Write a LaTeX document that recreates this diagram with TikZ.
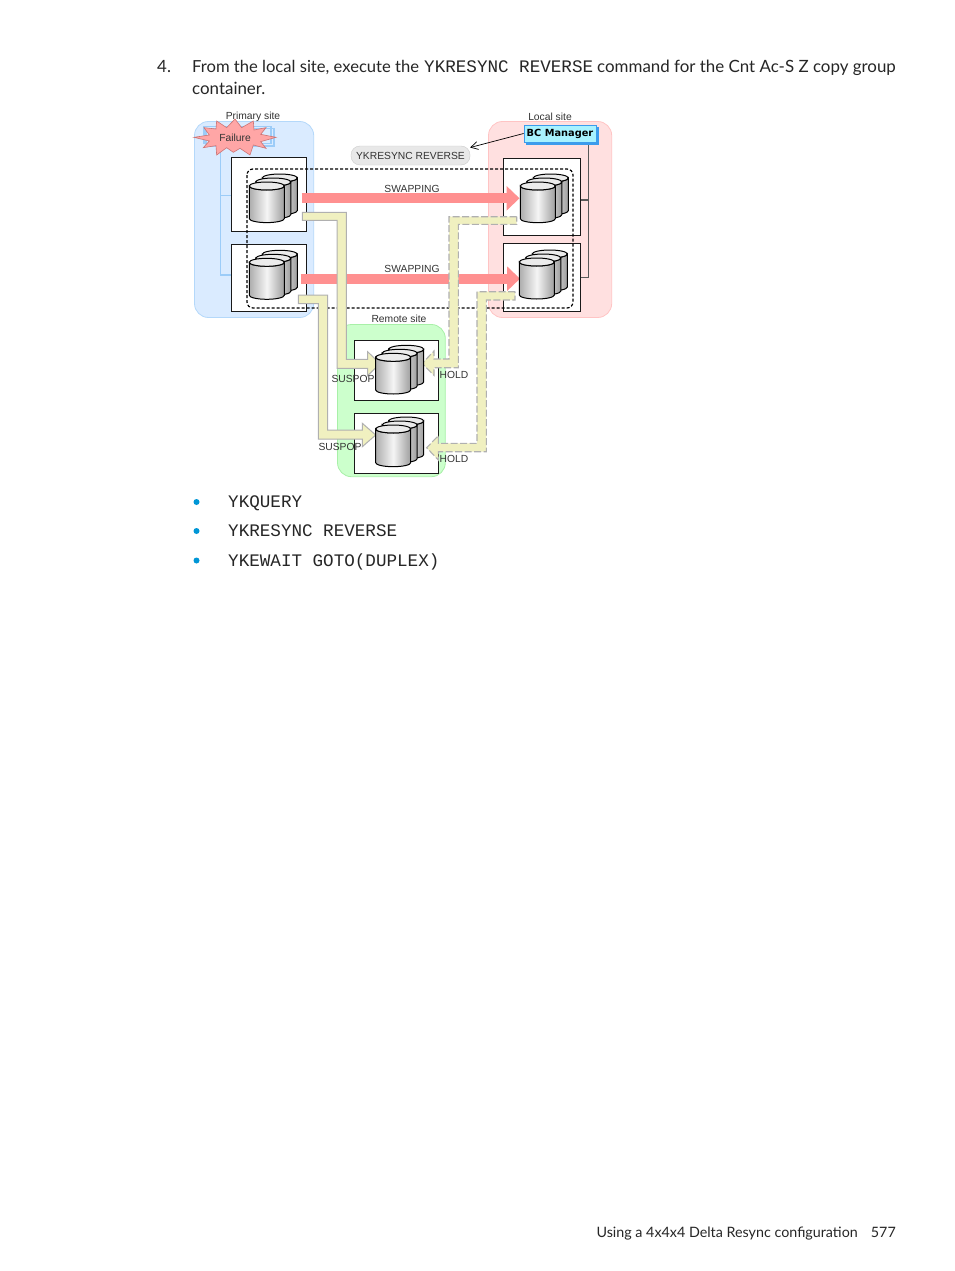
\documentclass[tikz,border=0pt]{standalone}
\usepackage{fontspec}
\setmainfont{Lato}
\setsansfont{Liberation Sans}
\setmonofont{Liberation Mono}
\newfontfamily\bcfont{DejaVu Sans}
\usetikzlibrary{arrows.meta}
\definecolor{siteblue}{HTML}{DAEBFF}
\definecolor{siteblueline}{HTML}{B4D8FA}
\definecolor{sitepink}{HTML}{FFE0E0}
\definecolor{sitepinkline}{HTML}{FFC4C4}
\definecolor{sitegreen}{HTML}{CCFFCC}
\definecolor{sitegreenline}{HTML}{A8F0A8}
\definecolor{salmon}{HTML}{FF9090}
\definecolor{pale}{HTML}{F0F0C0}
\definecolor{paleline}{HTML}{B0B0B0}
\definecolor{hpblue}{HTML}{0096D6}
\definecolor{wire}{HTML}{9CCCF8}
\definecolor{capsule}{HTML}{E8E8E8}
\definecolor{bccyan}{HTML}{A8F2FF}
\definecolor{bcshadow}{HTML}{3C9CEC}
\tikzset{
  site/.style={rounded corners=14pt,line width=0.8pt},
  sitebox/.style={draw=black!90,fill=white,line width=1pt},
  body/.style={inner sep=0pt,anchor=base west,font=\fontsize{16.9}{20}\selectfont,text=black!85},
  code/.style={inner sep=0pt,anchor=base west,font=\ttfamily\fontsize{17.6}{20}\selectfont,text=black!85},
  lab/.style={inner sep=0pt,font=\sffamily\fontsize{10.3}{12}\selectfont,text=black!80},
  swaparrow/.style={draw=salmon,line width=10pt,-{Triangle[length=13pt,width=24pt,fill=salmon]}},
  bigarrow/.style={fill=pale,draw=paleline,line width=1pt,line join=miter},
  holdarrow/.style={bigarrow,line width=1.1pt,dash pattern=on 7pt off 2.5pt},
  dot/.style={circle,fill=hpblue,inner sep=0pt,minimum size=6pt},
}
\newcommand{\onecyl}[3]{% x, ytop, ybottom
  \path[left color=black!32,right color=black!38,middle color=black!4,draw=black,line width=1pt]
    (#1,#2+4) arc[start angle=180,end angle=360,x radius=17.5pt,y radius=4pt]
    -- (#1+35,#3-4) arc[start angle=360,end angle=180,x radius=17.5pt,y radius=4pt] -- cycle;
  \path[fill=black!8,draw=black,line width=1pt] (#1+17.5,#2+4) ellipse[x radius=17.5pt,y radius=4pt];
}
\newcommand{\cylstack}[3]{%
  \onecyl{#1+13}{#2-8}{#3-8}
  \onecyl{#1+6.5}{#2-4}{#3-4}
  \onecyl{#1}{#2}{#3}
}
\begin{document}
\begin{tikzpicture}[x=1pt,y=-1pt]
\useasboundingbox[fill=white] (0,0) rectangle (954,1271);

% page text
\node[body] (stepno) at (157,72.5) {4.};
\node[body,font=\fontsize{16.6}{20}\selectfont] (l1a) at (192,72.5) {From the local site, execute the};
\node[code] (l1b) at (424,72.5) {YKRESYNC REVERSE};
\node[body] (l1c) at (597,72.5) {command for the Cnt Ac-S Z copy group};
\node[body] (l2) at (192,94.5) {container.};

% sites
\draw[site,fill=siteblue,draw=siteblueline] (194.5,121.5) rectangle (313.7,317.5);
\draw[site,fill=sitepink,draw=sitepinkline] (488.5,121.5) rectangle (611.7,317.5);
\draw[site,fill=sitegreen,draw=sitegreenline] (337.5,324.5) rectangle (445.3,476.7);

% hidden server and wires, primary site
\draw[wire,line width=1.5pt] (220.7,146) -- (220.7,275) -- (232,275) (220.7,195.7) -- (232,195.7);
\draw[wire,line width=1.5pt] (206,128.5) rectangle (274,146);
\draw[wire,line width=1.5pt] (204,126.5) rectangle (271,143.5);

% wires, local site
\draw[black!65,line width=1.4pt] (588.5,143) -- (588.5,277.7) -- (580,277.7) (588.5,200) -- (580,200);

% storage boxes
\node[sitebox,minimum width=74.3pt,minimum height=74pt,inner sep=0pt] (pbox1) at (268.85,194) {};
\node[sitebox,minimum width=74.3pt,minimum height=67pt,inner sep=0pt] (pbox2) at (268.85,277.5) {};
\node[sitebox,minimum width=77pt,minimum height=77pt,inner sep=0pt] (lbox1) at (541.5,196.5) {};
\node[sitebox,minimum width=77pt,minimum height=68pt,inner sep=0pt] (lbox2) at (541.5,277) {};
\node[sitebox,minimum width=84pt,minimum height=60pt,inner sep=0pt] (rbox1) at (396.3,370.3) {};
\node[sitebox,minimum width=84pt,minimum height=60pt,inner sep=0pt] (rbox2) at (396.3,443.3) {};

% copy group outline
\draw[black,line width=1.2pt,dash pattern=on 3pt off 2pt,rounded corners=6pt] (247,169) rectangle (573,308);

% swapping arrows
\coordinate (s1a) at (301.7,198.3); \coordinate (s1b) at (519.5,198.3);
\coordinate (s2a) at (300.7,278.7); \coordinate (s2b) at (520,278.7);
\draw[swaparrow] (s1a) -- (s1b);
\draw[swaparrow] (s2a) -- (s2b);

% suspended pairs
\draw[bigarrow] (302.3,212.3) -- (346.3,212.3) -- (346.3,359.3) -- (367.7,359.3) -- (367.7,351.7) -- (380,363.8) -- (367.7,375.5) -- (367.7,368.3) -- (337,368.3) -- (337,220.3) -- (302.3,220.3) -- cycle;
\draw[bigarrow] (298.3,295) -- (327.7,295) -- (327.7,430) -- (362.3,430) -- (362.3,423.3) -- (375.7,435) -- (362.3,446.7) -- (362.3,439) -- (318.3,439) -- (318.3,303.7) -- (298.3,303.7) -- cycle;

% hold pairs
\draw[holdarrow] (516.7,216.7) -- (449,216.7) -- (449,359) -- (434,359) -- (434,351) -- (422,363.5) -- (434,375.3) -- (434,367.7) -- (458.3,367.7) -- (458.3,224.3) -- (516.7,224.3) -- cycle;
\draw[holdarrow] (515,291.7) -- (477,291.7) -- (477,443.3) -- (438.3,443.3) -- (438.3,435.7) -- (426.7,447.7) -- (438.3,460) -- (438.3,451.7) -- (486.3,451.7) -- (486.3,300) -- (515,300) -- cycle;

% volumes
\cylstack{249.3}{182}{222.6}
\cylstack{249.3}{258.3}{299.3}
\cylstack{520.3}{182}{222.7}
\cylstack{519.3}{258}{299}
\cylstack{375.7}{353.3}{394}
\cylstack{375.7}{425}{466.7}

% failure burst
\begin{scope}[shift={(190,115)},x=0.3333pt,y=-0.3333pt]
\path[fill=salmon!80!white,draw=salmon!80!black,line width=0.6pt]
 (12,67) -- (58,60) -- (42,38) -- (78,42) -- (80,18) -- (110,38) -- (135,12) -- (155,38) -- (190,18) -- (192,45) -- (228,38) -- (212,58) -- (258,67) -- (212,80) -- (228,100) -- (190,90) -- (180,120) -- (150,100) -- (130,112) -- (110,98) -- (80,120) -- (78,92) -- (40,98) -- (58,78) -- cycle;
\end{scope}
\node[lab] (failure) at (235,138) {Failure};

% BC Manager and command
\fill[bcshadow] (526,127.5) rectangle (598.5,145);
\node[draw=bcshadow,fill=bccyan,line width=0.8pt,inner sep=0pt,minimum width=72pt,minimum height=17pt,font=\bcfont\bfseries\fontsize{9.8}{11}\selectfont] (bc) at (560,133.5) {BC Manager};
\node[draw=black!20,fill=capsule,rounded corners=9pt,inner sep=0pt,minimum width=119pt,minimum height=19pt,font=\sffamily\fontsize{10.3}{12}\selectfont,text=black!80] (cmd) at (410.5,155.5) {YKRESYNC REVERSE};
\draw[black,line width=0.7pt,-{Straight Barb[length=7pt,width=8pt]}] (bc.west) -- (cmd.north east |- 0,147.5);

% labels
\node[lab] (psite) at (253,117) {Primary site};
\node[lab] (lsite) at (550,117) {Local site};
\node[lab] (rsite) at (399,319) {Remote site};
\node[lab] (sw1) at (412,188.5) {SWAPPING};
\node[lab] (sw2) at (412,268.5) {SWAPPING};
\node[lab] (su1) at (353,379) {SUSPOP};
\node[lab] (su2) at (340,446.5) {SUSPOP};
\node[lab] (ho1) at (454,375) {HOLD};
\node[lab] (ho2) at (454,459) {HOLD};

% bullets
\node[dot] (b1) at (196.5,502) {};
\node[dot] (b2) at (196.5,531) {};
\node[dot] (b3) at (196.5,560.5) {};
\node[code] (i1) at (228,507) {YKQUERY};
\node[code] (i2) at (228,536) {YKRESYNC REVERSE};
\node[code] (i3) at (228,566) {YKEWAIT GOTO(DUPLEX)};

% footer
\node[inner sep=0pt,anchor=base east,font=\fontsize{14.3}{18}\selectfont,text=black!85] (foot) at (858,1237) {Using a 4x4x4 Delta Resync configuration};
\node[inner sep=0pt,anchor=base east,font=\fontsize{14.3}{18}\selectfont,text=black!85] (pg) at (896,1237) {577};
\end{tikzpicture}
\end{document}
